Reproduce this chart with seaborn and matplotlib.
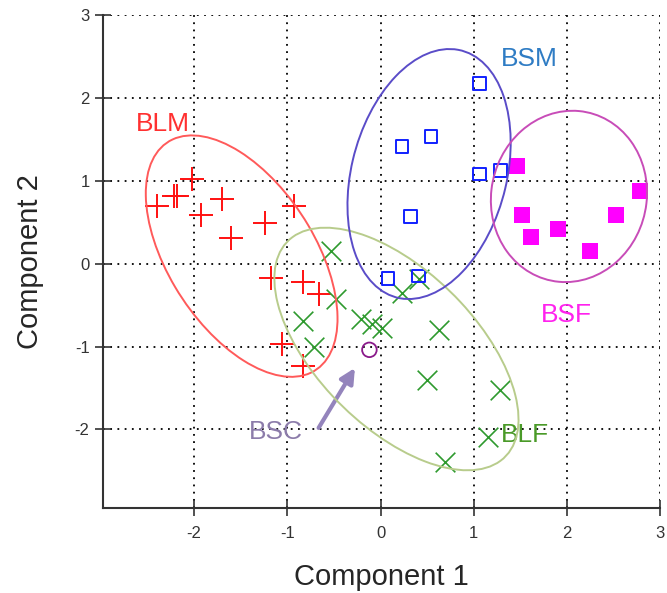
import matplotlib
matplotlib.use('Agg')
import matplotlib.pyplot as plt
from matplotlib.patches import Ellipse
import seaborn as sns
import pandas as pd

# scores
blm_x = [-2.40, -2.22, -2.18, -2.02, -1.93, -1.70, -1.60, -1.24, -0.93, -1.17, -0.83, -0.66, -1.06, -0.83]
blm_y = [0.70, 0.82, 0.82, 1.02, 0.58, 0.78, 0.31, 0.49, 0.69, -0.17, -0.22, -0.37, -0.97, -1.24]

blf_x = [-0.53, -0.48, -0.83, -0.71, -0.21, -0.09, 0.02, 0.23, 0.41, 0.63, 0.50, 1.28, 1.15, 0.69]
blf_y = [0.15, -0.43, -0.69, -1.00, -0.67, -0.73, -0.78, -0.36, -0.19, -0.80, -1.40, -1.52, -2.09, -2.39]

bsm_x = [1.06, 0.23, 0.54, 1.06, 1.29, 0.32, 0.08, 0.41]
bsm_y = [2.17, 1.41, 1.53, 1.08, 1.12, 0.57, -0.18, -0.15]

bsf_x = [1.46, 1.52, 1.61, 1.90, 2.25, 2.52, 2.78]
bsf_y = [1.18, 0.58, 0.32, 0.42, 0.15, 0.58, 0.87]

bsc_x = [-0.12]
bsc_y = [-1.04]

# group ellipses: centre, width, height, angle (data units)
ell_names = ['BLM', 'BLF', 'BSM', 'BSF']
ell_cx = [-1.49, 0.17, 0.52, 2.02]
ell_cy = [0.09, -1.03, 1.08, 0.81]
ell_w = [3.18, 3.50, 3.06, 2.07]
ell_h = [1.61, 1.78, 1.67, 1.67]
ell_ang = [117.8, 129.6, 78.2, 84.0]
ell_col = ['#ff5a5a', '#b8cc8c', '#5a4cc8', '#c84cb8']

sns.set_style('white')
plt.rcParams['font.family'] = ['Liberation Sans', 'DejaVu Sans']
plt.rcParams['axes.unicode_minus'] = False

fig = plt.figure(figsize=(6.67, 5.93), dpi=100)
ax = fig.add_axes([0.154, 0.143, 0.836, 0.832])

df_blm = pd.DataFrame({'x': blm_x, 'y': blm_y})
df_blf = pd.DataFrame({'x': blf_x, 'y': blf_y})
df_bsm = pd.DataFrame({'x': bsm_x, 'y': bsm_y})
df_bsf = pd.DataFrame({'x': bsf_x, 'y': bsf_y})
df_bsc = pd.DataFrame({'x': bsc_x, 'y': bsc_y})

sns.scatterplot(data=df_blm, x='x', y='y', marker='+', s=300, color='#ff1010', linewidth=1.4, ax=ax, zorder=3)
sns.scatterplot(data=df_blf, x='x', y='y', marker='x', s=200, color='#2e9a2e', linewidth=1.2, ax=ax, zorder=3)
sns.scatterplot(data=df_bsm, x='x', y='y', marker='s', s=85, facecolor='none', edgecolor='#1020ff', linewidth=1.4, ax=ax, zorder=3)
sns.scatterplot(data=df_bsf, x='x', y='y', marker='s', s=120, color='#ff00ff', edgecolor='#ff00ff', linewidth=0, ax=ax, zorder=3)
sns.scatterplot(data=df_bsc, x='x', y='y', marker='o', s=110, facecolor='none', edgecolor='#8a1a8a', linewidth=1.3, ax=ax, zorder=3)

for i in range(len(ell_names)):
    e = Ellipse((ell_cx[i], ell_cy[i]), ell_w[i], ell_h[i], angle=ell_ang[i],
                fill=False, edgecolor=ell_col[i], lw=1.4, zorder=4)
    ax.add_patch(e)

# group labels
ax.text(-2.33, 1.68, 'BLM', color='#ff3030', fontsize=19, ha='center', va='center')
ax.text(1.60, 2.47, 'BSM', color='#2f7cc4', fontsize=19, ha='center', va='center')
ax.text(1.99, -0.62, 'BSF', color='#ff22ee', fontsize=19, ha='center', va='center')
ax.text(1.55, -2.07, 'BLF', color='#4a9a28', fontsize=19, ha='center', va='center')
ax.text(-1.12, -2.03, 'BSC', color='#8c7caa', fontsize=19, ha='center', va='center')
ax.annotate('', xy=(-0.26, -1.23), xytext=(-0.68, -2.01),
            arrowprops=dict(arrowstyle='-|>', color='#9484bc', lw=3, mutation_scale=22))

ax.set_xlim(-2.98, 3.0)
ax.set_ylim(-2.95, 3.0)
ax.set_xticks([-2, -1, 0, 1, 2, 3])
ax.set_yticks([-2, -1, 0, 1, 2, 3])
ax.grid(True, color='black', linestyle=(0, (1, 3)), linewidth=1.3)
ax.tick_params(direction='inout', length=12, width=1.2, color='#333333',
               labelsize=12, labelcolor='#333333', left=True, bottom=True)
ax.tick_params(axis='x', pad=7)
sns.despine(ax=ax)
for s in ['left', 'bottom']:
    ax.spines[s].set_color('#333333')
    ax.spines[s].set_linewidth(1.5)

ax.set_xlabel('Component 1', fontsize=21, labelpad=16)
ax.set_ylabel('Component 2', fontsize=21, labelpad=22)

fig.savefig('out.png', dpi=100)
